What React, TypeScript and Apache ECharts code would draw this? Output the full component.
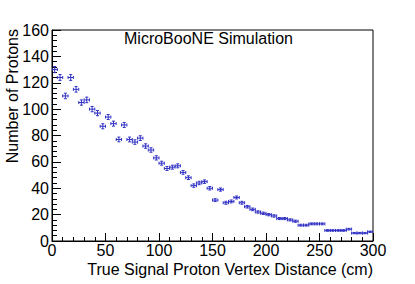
import React, { useEffect, useRef } from "react";
import * as echarts from "echarts";

const binCenters = [
  2.5, 7.5, 12.5, 17.5, 22.5, 27.5, 32.5, 37.5, 42.5, 47.5,
  52.5, 57.5, 62.5, 67.5, 72.5, 77.5, 82.5, 87.5, 92.5, 97.5,
  102.5, 107.5, 112.5, 117.5, 122.5, 127.5, 132.5, 137.5, 142.5, 147.5,
  152.5, 157.5, 162.5, 167.5, 172.5, 177.5, 182.5, 187.5, 192.5, 197.5,
  202.5, 207.5, 212.5, 217.5, 222.5, 227.5, 232.5, 237.5, 242.5, 247.5,
  252.5, 257.5, 262.5, 267.5, 272.5, 277.5, 282.5, 287.5, 292.5, 297.5,
];
const protonCounts = [
  130, 124, 110, 124, 115, 105, 107, 100, 97, 87,
  94, 89, 77, 88, 77, 75, 78, 72, 69, 63,
  59, 55, 56, 57, 52, 48, 42, 44, 45, 40,
  31, 39, 29, 30, 33, 29, 26, 24, 22, 21,
  20, 19, 17, 17, 16, 15, 12, 12, 13, 13,
  13, 8, 8, 8, 8, 9, 6, 6, 6, 7,
];
const countErrors = [
  2.3, 2.2, 2.1, 2.2, 2.1, 2.0, 2.1, 2.0, 2.0, 1.9,
  1.9, 1.9, 1.8, 1.9, 1.8, 1.7, 1.8, 1.7, 1.7, 1.6,
  1.5, 1.5, 1.5, 1.5, 1.4, 1.4, 1.3, 1.3, 1.3, 1.3,
  1.1, 1.2, 1.1, 1.1, 1.1, 1.1, 1.0, 1.0, 0.9, 0.9,
  0.9, 0.9, 0.8, 0.8, 0.8, 0.8, 0.7, 0.7, 0.7, 0.7,
  0.7, 0.6, 0.6, 0.6, 0.6, 0.6, 0.5, 0.5, 0.5, 0.5,
];
const binHalfWidth = 2.5;
const xTitle = "True Signal Proton Vertex Distance (cm)";
const yTitle = "Number of Protons";
const label = "MicroBooNE Simulation";

const FONT = "'Liberation Sans', Arial, Helvetica, sans-serif";
const BLUE = "#3030c4";

export default function App() {
  const ref = useRef<HTMLDivElement>(null);
  useEffect(() => {
    if (!ref.current) return;
    const chart = echarts.init(ref.current, undefined, { renderer: "svg" });
    const data = binCenters.map((x, i) => [x, protonCounts[i], countErrors[i]]);
    chart.setOption({
      animation: false,
      backgroundColor: "#ffffff",
      grid: {
        left: 52,
        right: 42,
        top: 30,
        bottom: 43,
        show: true,
        borderColor: "#000",
        borderWidth: 1,
        backgroundColor: "transparent",
      },
      xAxis: {
        type: "value",
        min: 0,
        max: 300,
        interval: 50,
        axisLine: { show: true, onZero: false, lineStyle: { color: "#000", width: 1 } },
        axisTick: { show: true, inside: true, length: 8, lineStyle: { color: "#000" } },
        minorTick: { show: true, splitNumber: 5, length: 4, lineStyle: { color: "#000" } },
        splitLine: { show: false },
        axisLabel: { color: "#000", fontSize: 16, fontFamily: FONT, margin: 1, lineHeight: 16 },
      },
      yAxis: {
        type: "value",
        min: 0,
        max: 160,
        interval: 20,
        axisLine: { show: true, onZero: false, lineStyle: { color: "#000", width: 1 } },
        axisTick: { show: true, inside: true, length: 9, lineStyle: { color: "#000" } },
        minorTick: { show: true, splitNumber: 5, length: 5, lineStyle: { color: "#000" } },
        splitLine: { show: false },
        axisLabel: { color: "#000", fontSize: 16, fontFamily: FONT, margin: 3 },
      },
      graphic: [
        {
          type: "text",
          x: 124,
          y: 38,
          style: { text: label, fill: "#000", font: `16px ${FONT}`, align: "left", verticalAlign: "middle" },
        },
        {
          type: "text",
          x: 373,
          y: 269,
          style: { text: xTitle, fill: "#000", font: `16px ${FONT}`, align: "right", verticalAlign: "middle" },
        },
        {
          type: "text",
          x: 12,
          y: 29,
          rotation: Math.PI / 2,
          style: { text: yTitle, fill: "#000", font: `16px ${FONT}`, align: "right", verticalAlign: "middle" },
        },
      ],
      series: [
        {
          type: "custom",
          data,
          clip: true,
          renderItem: (params: any, api: any) => {
            const x = api.value(0);
            const y = api.value(1);
            const e = api.value(2);
            const l = api.coord([x - binHalfWidth, y]);
            const r = api.coord([x + binHalfWidth, y]);
            const lo = api.coord([x, y - e]);
            const hi = api.coord([x, y + e]);
            const c = 1.5;
            const style = { stroke: BLUE, lineWidth: 1, fill: "none" };
            return {
              type: "group",
              children: [
                { type: "line", shape: { x1: l[0], y1: l[1], x2: r[0], y2: r[1] }, style },
                { type: "line", shape: { x1: lo[0], y1: lo[1], x2: hi[0], y2: hi[1] }, style },
                { type: "line", shape: { x1: l[0], y1: l[1] - c, x2: l[0], y2: l[1] + c }, style },
                { type: "line", shape: { x1: r[0], y1: r[1] - c, x2: r[0], y2: r[1] + c }, style },
                { type: "line", shape: { x1: lo[0] - c, y1: lo[1], x2: lo[0] + c, y2: lo[1] }, style },
                { type: "line", shape: { x1: hi[0] - c, y1: hi[1], x2: hi[0] + c, y2: hi[1] }, style },
              ],
            };
          },
        },
      ],
    });
    return () => chart.dispose();
  }, []);
  return (
    <div
      ref={ref}
      style={{ position: "fixed", left: 0, top: 0, width: 415, height: 284, background: "#fff" }}
    />
  );
}
